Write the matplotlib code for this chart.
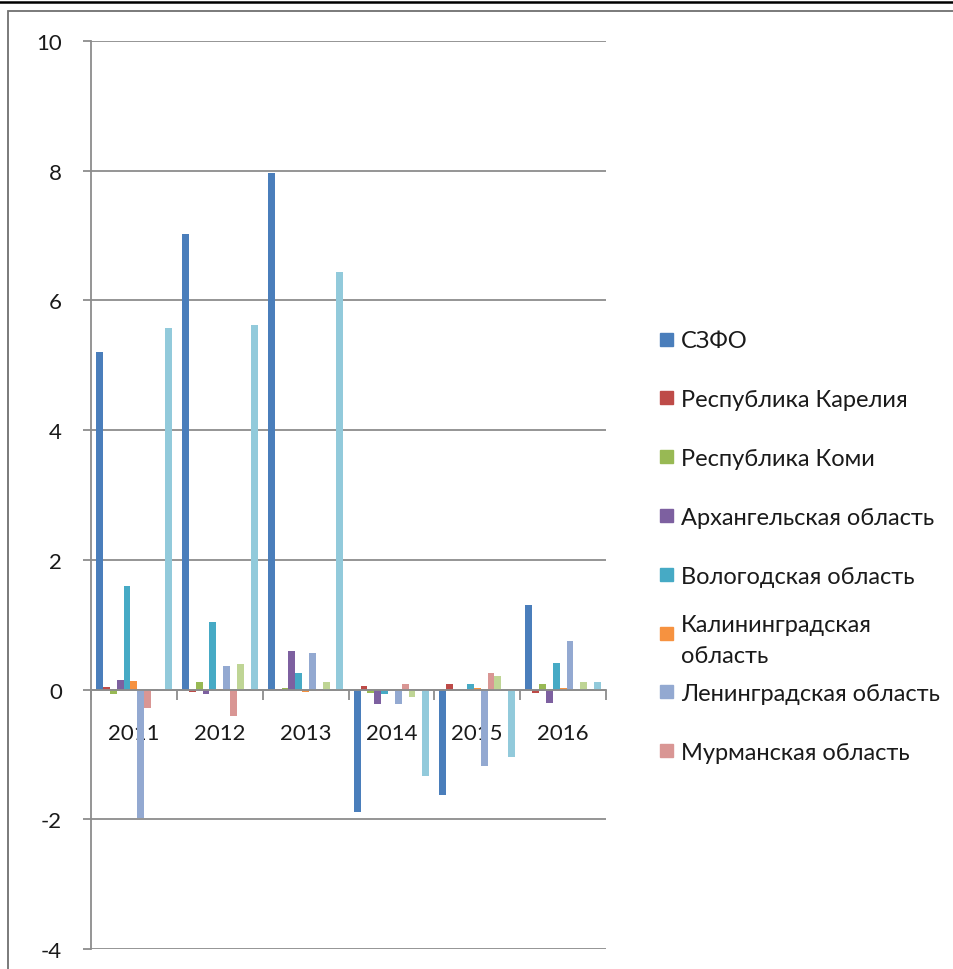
import numpy as np
import matplotlib
matplotlib.use("Agg")
import matplotlib.pyplot as plt
from matplotlib.patches import Rectangle
from matplotlib.lines import Line2D

plt.rcParams['font.family'] = ['Lato', 'DejaVu Sans']
plt.rcParams['axes.unicode_minus'] = False

years = ['2011', '2012', '2013', '2014', '2015', '2016']

regions = [
    'СЗФО',
    'Республика Карелия',
    'Республика Коми',
    'Архангельская область',
    'Вологодская область',
    'Калининградская\nобласть',
    'Ленинградская область',
    'Мурманская область',
    'Новгородская область',
    'Псковская область',
    'г. Санкт-Петербург',
]

szfo = [5.20, 7.02, 7.96, -1.88, -1.63, 1.30]
karelia = [0.04, -0.03, 0.01, 0.06, 0.09, -0.05]
komi = [-0.07, 0.11, 0.02, -0.05, 0.00, 0.08]
arkhangelsk = [0.14, -0.07, 0.59, -0.22, 0.00, -0.20]
vologda = [1.59, 1.04, 0.26, -0.07, 0.09, 0.41]
kaliningrad = [0.13, 0.01, -0.03, 0.00, 0.03, 0.02]
leningrad = [-1.98, 0.36, 0.57, -0.23, -1.18, 0.75]
murmansk = [-0.29, -0.40, -0.02, 0.08, 0.25, 0.00]
novgorod = [0.00, 0.39, 0.11, -0.11, 0.21, 0.12]
pskov = [0.015, 0.00, 0.00, 0.00, -0.01, 0.00]
spb = [5.58, 5.62, 6.44, -1.33, -1.04, 0.12]

series = [szfo, karelia, komi, arkhangelsk, vologda, kaliningrad,
          leningrad, murmansk, novgorod, pskov, spb]

colors = ['#4A7EBB', '#BE4B48', '#98B954', '#7D60A0', '#46AAC5', '#F69240',
          '#93A9D1', '#D99694', '#BFD595', '#B3A2C7', '#92CADB']

W, H = 954, 970
fig = plt.figure(figsize=(W / 100, H / 100), dpi=100)
fig.patch.set_facecolor('white')

# page rule and chart frame
fig.add_artist(Line2D([0, 1], [1 - 2.5 / H, 1 - 2.5 / H], color='black', lw=1.8,
                      transform=fig.transFigure))
fig.add_artist(Rectangle((8 / W, -0.05), 1.1, 1 - 12 / H + 0.05, fill=False,
                         edgecolor='#707070', lw=1.3, transform=fig.transFigure,
                         clip_on=False))

ax = fig.add_axes([91 / W, 1 - 950 / H, (606 - 91) / W, (950 - 42) / H])

x = np.arange(len(years))
n = len(series)
bw = 1 / (n + 1.5)
for k, (vals, c) in enumerate(zip(series, colors)):
    ax.bar(x + (k - (n - 1) / 2) * bw, vals, width=bw, color=c, linewidth=0, zorder=3)

ax.set_xlim(-0.5, len(years) - 0.5)
ax.set_ylim(-4, 10)
ax.set_yticks(np.arange(-4, 11, 2))
ax.yaxis.grid(True, color='#8C8C8C', lw=1.3, zorder=0)
ax.set_axisbelow(True)

for s in ['top', 'right']:
    ax.spines[s].set_visible(False)
ax.spines['left'].set_color('#8C8C8C')
ax.spines['left'].set_linewidth(1.3)
ax.spines['bottom'].set_position(('data', 0))
ax.spines['bottom'].set_color('#8C8C8C')
ax.spines['bottom'].set_linewidth(1.3)
ax.spines['bottom'].set_zorder(4)

ax.set_xticks(x)
ax.set_xticklabels(years)
ax.set_xticks(np.arange(-0.5, len(years)), minor=True)
ax.tick_params(axis='x', which='major', length=0, pad=24, labelsize=16, colors='#1A1A1A')
ax.tick_params(axis='x', which='minor', length=7, width=1.3, color='#8C8C8C', direction='out')
ax.tick_params(axis='y', length=6, width=1.3, color='#8C8C8C', pad=15,
               labelsize=16, labelcolor='#1A1A1A')

# legend, only the entries that fit in the box
for i in range(8):
    yc = 1 - (340 + 58.8 * i) / H
    fig.add_artist(Rectangle((660 / W, yc - 6.5 / H), 13 / W, 13 / H,
                             color=colors[i], transform=fig.transFigure))
    fig.text(681 / W, yc, regions[i], fontsize=17, color='#1A1A1A',
             va='center_baseline', ha='left', linespacing=1.6)

fig.savefig('out.png', dpi=100, facecolor='white')
